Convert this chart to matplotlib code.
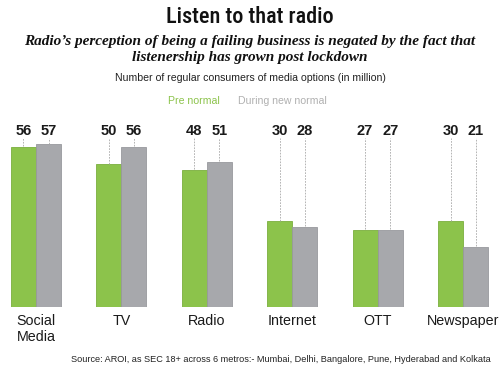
import matplotlib
matplotlib.use("Agg")
import matplotlib.pyplot as plt

categories = ["Social\nMedia", "TV", "Radio", "Internet", "OTT", "Newspaper"]
pre_normal = [56, 50, 48, 30, 27, 30]
new_normal = [57, 56, 51, 28, 27, 21]
series_names = ["Pre normal", "During new normal"]

GREEN = "#8cc34b"
GREY = "#a7a8ac"
SANS = ["Liberation Sans", "DejaVu Sans"]

fig = plt.figure(figsize=(5, 3.75), dpi=100)
ax = fig.add_axes([0, 68 / 375, 1, 197 / 375])
ax.set_xlim(-0.4215, 5.433)
ax.set_ylim(0, 69.1)
ax.axis("off")

w = 0.293
x = range(len(categories))
ax.bar([i - w / 2 for i in x], pre_normal, width=w, color=GREEN,
       edgecolor="#7aae3e", linewidth=0.6)
ax.bar([i + w / 2 for i in x], new_normal, width=w, color=GREY,
       edgecolor="#98999d", linewidth=0.6)

# valeurs au-dessus, reliées aux barres par un pointillé
label_y = 61.8
line_top = 59.3
for i in x:
    for off, v in ((-w / 2, pre_normal[i]), (w / 2, new_normal[i])):
        ax.text(i + off, label_y, str(v), ha="center", va="center",
                fontsize=10.5, fontweight="bold", color="#1a1a1a", family=SANS)
        if line_top - v > 1.5:
            ax.plot([i + off, i + off], [v + 0.3, line_top], ls=(0, (2, 1.5)),
                    color="#a8a8a8", lw=0.6)
    ax.text(i, -2.5, categories[i], ha="center", va="top", fontsize=10.3,
            color="#1a1a1a", multialignment="left", linespacing=1.15,
            family=SANS)

fig.text(0.5, 1 - 17 / 375, "Listen to that radio", ha="center", va="center",
         fontsize=16, fontweight="medium",
         family=["Liberation Sans Narrow", "Roboto Condensed", "Roboto", "DejaVu Sans"],
         color="#111111")
fig.text(0.5, 1 - 49 / 375,
         "Radio’s perception of being a failing business is negated by the fact that\n"
         "listenership has grown post lockdown",
         ha="center", va="center", fontsize=11, fontweight="bold", style="italic",
         family="Liberation Serif", color="#111111", linespacing=1.3)
fig.text(0.5, 1 - 78 / 375,
         "Number of regular consumers of media options (in million)",
         ha="center", va="center", fontsize=7.6, color="#222222", family=SANS)
fig.text(194 / 500, 1 - 101 / 375, series_names[0], ha="center", va="center",
         fontsize=7.6, color=GREEN, family=SANS)
fig.text(282 / 500, 1 - 101 / 375, series_names[1], ha="center", va="center",
         fontsize=7.6, color="#b0b0b0", family=SANS)
fig.text(281 / 500, 1 - 360 / 375,
         "Source: AROI, as SEC 18+ across 6 metros:- Mumbai, Delhi, Bangalore, Pune, Hyderabad and Kolkata",
         ha="center", va="center", fontsize=6.6, color="#222222", family=SANS)

fig.savefig("out.png", dpi=100)
